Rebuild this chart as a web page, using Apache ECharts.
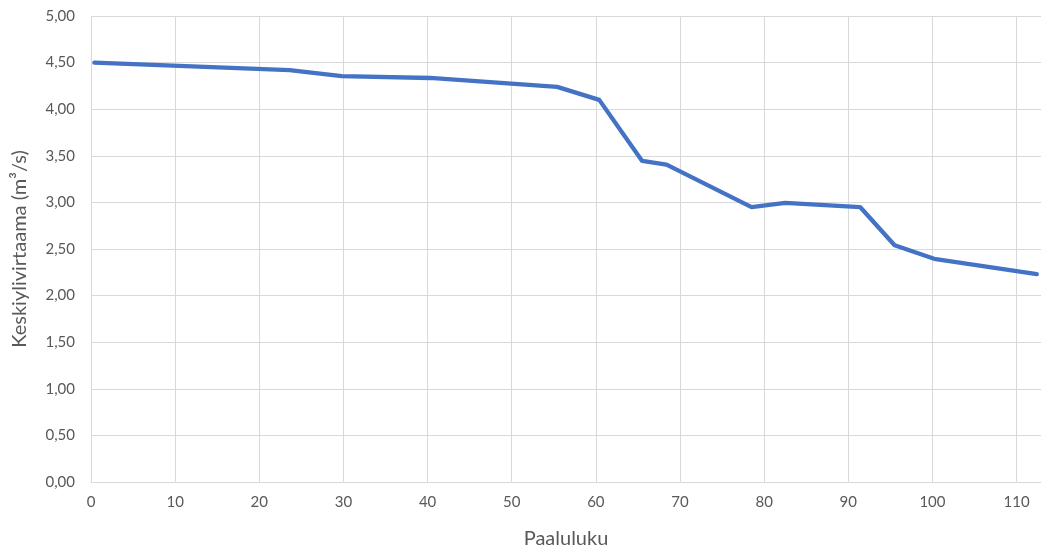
<!DOCTYPE html>
<html>
<head>
<meta charset="utf-8">
<script src="https://cdn.jsdelivr.net/npm/echarts@6/dist/echarts.min.js"></script>
<style>
	html, body { margin: 0; padding: 0; background: #fff; }
	#chart { width: 1041px; height: 554px; }
</style>
</head>
<body>
<div id="chart"></div>
<script type="text/javascript">
	// paaluluku / keskiylivirtaama
	var paalu = [0.4, 23.6, 29.8, 40.3, 55.4, 60.4, 65.5, 68.4, 78.5, 82.5, 91.4, 95.5, 100.2, 112.4];
	var virtaama = [4.50, 4.42, 4.355, 4.335, 4.24, 4.10, 3.445, 3.405, 2.95, 2.995, 2.95, 2.54, 2.395, 2.23];
	var xTitle = 'Paaluluku';
	var yTitle = 'Keskiylivirtaama (m³/s)';

	var pts = [];
	for (var i = 0; i < paalu.length; i++) {
		pts.push([paalu[i], virtaama[i]]);
	}

	var txt = '#595959';
	var gridCol = '#d9d9d9';
	var font = 'Lato, "Open Sans", sans-serif';

	var option = {
		animation: false,
		textStyle: { fontFamily: font },
		grid: {
			left: 91,
			right: 0,
			top: 16,
			bottom: 69,
			containLabel: false
		},
		xAxis: {
			type: 'value',
			min: 0,
			max: 112.9,
			interval: 10,
			name: xTitle,
			nameLocation: 'middle',
			nameGap: 47,
			nameTextStyle: { color: txt, fontSize: 20, fontFamily: font },
			axisLine: { show: true, lineStyle: { color: gridCol, width: 1 } },
			axisTick: { show: false },
			axisLabel: {
				color: txt, fontSize: 15, margin: 13, fontFamily: font,
				showMaxLabel: false
			},
			splitLine: {
				show: true,
				showMaxLine: false,
				lineStyle: { color: gridCol, width: 1 }
			}
		},
		yAxis: {
			type: 'value',
			min: 0,
			max: 5,
			interval: 0.5,
			name: yTitle,
			nameLocation: 'middle',
			nameGap: 61,
			nameTextStyle: { color: txt, fontSize: 20, fontFamily: font },
			axisLine: { show: false },
			axisTick: { show: false },
			axisLabel: {
				color: txt, fontSize: 15, margin: 16, fontFamily: font,
				formatter: function (v) { return v.toFixed(2).replace('.', ','); }
			},
			splitLine: { show: true, lineStyle: { color: gridCol, width: 1 } }
		},
		series: [{
			type: 'line',
			data: pts,
			showSymbol: false,
			symbol: 'none',
			lineStyle: { color: '#4472C4', width: 4.3, cap: 'round', join: 'round' }
		}]
	};

	var myChart = echarts.init(document.getElementById('chart'));
	myChart.setOption(option);
</script>
</body>
</html>
